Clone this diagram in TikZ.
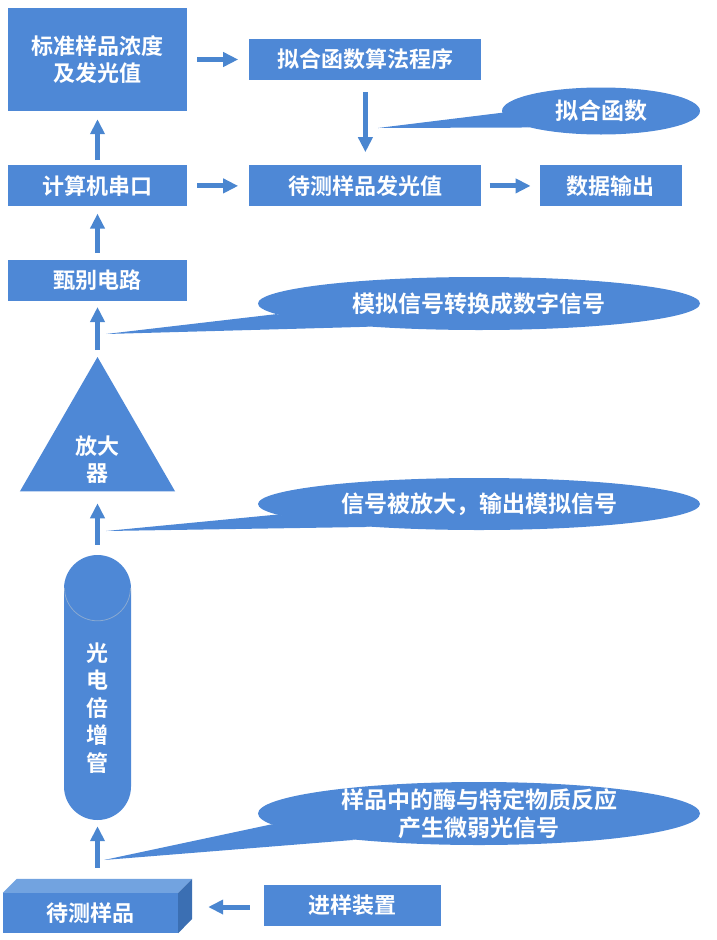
\documentclass[tikz,border=0pt]{standalone}
\usepackage{fontspec}
\newfontfamily\cjk{Noto Sans CJK SC}[BoldFont={* Bold}]
\usetikzlibrary{arrows.meta,positioning,calc,shapes.geometric}
\definecolor{FlowBlue}{HTML}{4E88D6}
\definecolor{FlowBlueDark}{HTML}{3B6FB3}
\definecolor{FlowBlueLight}{HTML}{72A3E0}
\definecolor{FlowArrow}{HTML}{4A86D0}

\begin{document}
\begin{tikzpicture}[x=1pt,y=1pt,>=Latex,
  blk/.style={fill=FlowBlue,text=white,font=\cjk\bfseries\fontsize{22}{27}\selectfont,
              align=center,inner sep=0pt,minimum height=41pt},
  bubble/.style={ellipse,fill=FlowBlue,text=white,font=\cjk\bfseries\fontsize{23}{28}\selectfont,
                 align=center,inner sep=-8pt},
  flow/.style={-{Triangle[length=15pt,width=14pt]},FlowArrow,line width=5pt}]
  \useasboundingbox (0,0) rectangle (716,-940);

  % left column
  \node[blk,minimum width=179pt,minimum height=103pt] (std) at (97.5,-59.5)
        {标准样品浓度\\及发光值};
  \node[blk,minimum width=179pt,below=54pt of std] (serial) {计算机串口};
  \node[blk,minimum width=179pt,below=53pt of serial] (discr) {甄别电路};
  \node[regular polygon,regular polygon sides=3,fill=FlowBlue,minimum size=179pt,
        inner sep=0pt,outer sep=0pt] (amp) at (97.5,-446.5) {};
  \node[text=white,font=\cjk\bfseries\fontsize{22}{27}\selectfont,align=center] (amptext)
        at (97.5,-460) {放大\\器};
  \node[fill=FlowBlue,minimum width=67pt,minimum height=265pt,rounded corners=33.5pt,
        inner sep=0pt] (pmt) at (97.5,-687.5) {};
  \draw[FlowBlueDark!60,line width=0.8pt] ($(pmt.north)+(-33,-33)$)
        arc[start angle=180,end angle=360,radius=33];
  \node[text=white,font=\cjk\bfseries\fontsize{22}{27.5}\selectfont,align=center] (pmttext)
        at (97.5,-708) {光\\电\\倍\\增\\管};
  \node[blk,minimum width=175pt,minimum height=40pt] (sample) at (90.5,-913) {待测样品};
  \fill[FlowBlueLight] (sample.north west) -- ++(14,14) -- ($(sample.north east)+(14,14)$)
        -- (sample.north east) -- cycle;
  \fill[FlowBlueDark] (sample.north east) -- ++(14,14) -- ++(0,-40)
        -- (sample.south east) -- cycle;

  % right part
  \node[blk,minimum width=232pt,right=62pt of std] (fitprog) {拟合函数算法程序};
  \node[blk,minimum width=232pt,below=85pt of fitprog] (measured) {待测样品发光值};
  \node[blk,minimum width=142pt,right=58pt of measured] (output) {数据输出};
  \node[blk,minimum width=177pt] (inlet) at (352.5,-905) {进样装置};

  % callouts
  \node[bubble,minimum width=198pt,minimum height=47pt] (cfit) at (601,-111) {拟合函数};
  \node[bubble,minimum width=442pt,minimum height=53pt] (cadc) at (479,-303.5)
        {模拟信号转换成数字信号};
  \node[bubble,minimum width=442pt,minimum height=52pt] (camp) at (479,-504)
        {信号被放大，输出模拟信号};
  \node[bubble,minimum width=442pt,minimum height=63pt] (cenz) at (479,-813.5)
        {样品中的酶与特定物质反应\\产生微弱光信号};
  \coordinate (fittip) at (378,-128);
  \coordinate (adctip) at (106,-334);
  \coordinate (amptip) at (106,-531);
  \coordinate (enztip) at (104,-860);
  \fill[FlowBlue] (fittip) -- (cfit.181) -- (cfit.193) -- cycle;
  \fill[FlowBlue] (adctip) -- (cadc.183) -- (cadc.192) -- cycle;
  \fill[FlowBlue] (amptip) -- (camp.183) -- (camp.192) -- cycle;
  \fill[FlowBlue] (enztip) -- (cenz.183) -- (cenz.192) -- cycle;

  % arrows
  \draw[flow,shorten <=5pt,shorten >=8pt] (serial.north) -- (std.south);
  \draw[flow,shorten <=10pt,shorten >=11pt] (std.east) -- (fitprog.west);
  \draw[flow,shorten <=12pt,shorten >=13pt] (fitprog.south) -- (measured.north);
  \draw[flow,shorten <=10pt,shorten >=11pt] (serial.east) -- (measured.west);
  \draw[flow,shorten <=8pt,shorten >=9pt] (measured.east) -- (output.west);
  \draw[flow,shorten <=7pt,shorten >=7pt] (discr.north) -- (serial.south);
  \draw[flow,shorten <=7pt,shorten >=6pt] (amp.north) -- (discr.south);
  \draw[flow,shorten <=10pt,shorten >=12pt] (pmt.north) -- (amp.south);
  \draw[flow,shorten <=25pt,shorten >=6pt] (pmt.south |- sample.north) -- (pmt.south);
  \draw[flow,shorten <=14pt,shorten >=30pt] ($(inlet.west)+(0,-2)$) -- ($(inlet.west -| sample.east)+(0,-2)$);
\end{tikzpicture}
\end{document}
